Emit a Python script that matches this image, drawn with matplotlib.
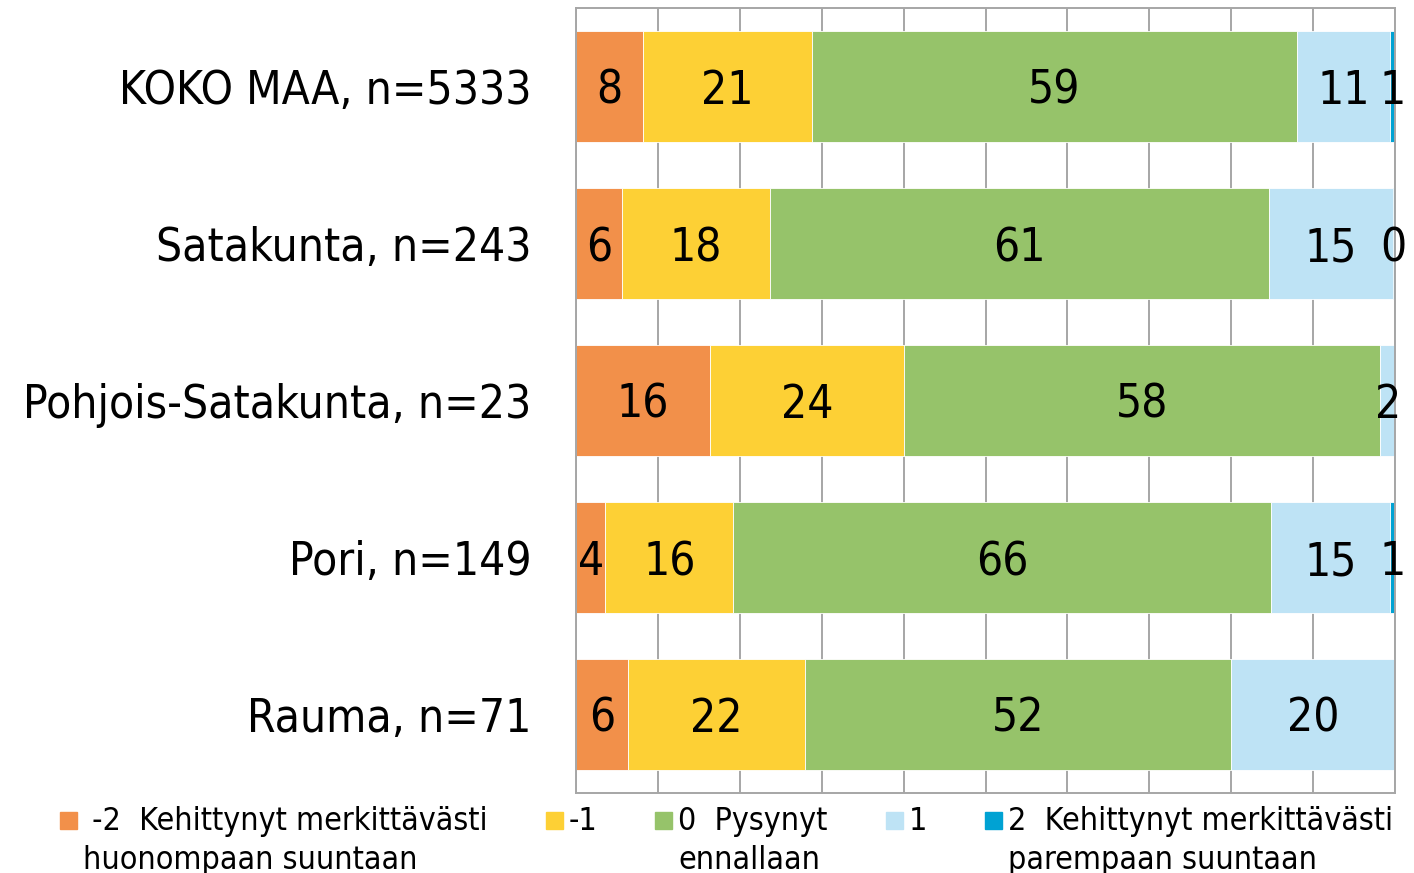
import matplotlib
matplotlib.use("Agg")
import matplotlib.pyplot as plt
from matplotlib import font_manager as fm
from matplotlib.patches import Rectangle
import numpy as np

# ---------------- data ----------------
categories = ["KOKO MAA, n=5333", "Satakunta, n=243", "Pohjois-Satakunta, n=23",
              "Pori, n=149", "Rauma, n=71"]
series_names = [" -2  Kehittynyt merkittävästi\nhuonompaan suuntaan",
                "-1",
                "0  Pysynyt\nennallaan",
                "1",
                "2  Kehittynyt merkittävästi\nparempaan suuntaan"]
minus2 = [8.2, 5.6, 16.4, 3.6, 6.3]
minus1 = [20.6, 18.1, 23.6, 15.6, 21.7]
zero = [59.2, 60.9, 58.2, 65.6, 52.0]
plus1 = [11.4, 15.1, 1.8, 14.6, 20.0]
plus2 = [0.6, 0.3, 0.0, 0.6, 0.0]
colors = ["#F2904A", "#FDD035", "#96C36A", "#BEE3F5", "#00A2D3"]

# ---------------- fonts ----------------
cond_path = None
for f in fm.fontManager.ttflist:
    if f.name == "DejaVu Sans" and f.stretch == "condensed" and f.style == "normal" \
            and f.weight in (400, "normal", "regular", "book"):
        cond_path = f.fname
        break
if cond_path is None:
    for f in fm.fontManager.ttflist:
        if f.fname.endswith("DejaVuSansCondensed.ttf"):
            cond_path = f.fname
            break


def fp(size):
    if cond_path:
        return fm.FontProperties(fname=cond_path, size=size)
    return fm.FontProperties(family="DejaVu Sans", size=size * 0.9)


W, H = 1414, 873
fig = plt.figure(figsize=(W / 100, H / 100), dpi=100)
ax = fig.add_axes([576 / W, 1 - 793 / H, (1395 - 576) / W, (793 - 8) / H])

series = [minus2, minus1, zero, plus1, plus2]
y = np.arange(len(categories))
left = np.zeros(len(categories))
bar_fp = fp(33)
for vals, col in zip(series, colors):
    vals = np.asarray(vals, dtype=float)
    ax.barh(y, vals, left=left, height=0.71, color=col, edgecolor="white",
            linewidth=0.6, zorder=2)
    for yi, l, v in zip(y, left, vals):
        if v > 0:
            ax.text(l + v / 2, yi, f"{v:.0f}", ha="center", va="center_baseline",
                    fontproperties=bar_fp, color="black", zorder=3, clip_on=False)
    left = left + vals

ax.set_xlim(0, 100)
ax.set_ylim(len(categories) - 0.5, -0.5)
ax.set_xticks(np.arange(0, 101, 10))
ax.set_xticklabels([])
ax.set_yticks(y)
ax.set_yticklabels(categories, fontproperties=fp(33))
ax.tick_params(axis="both", length=0)
ax.tick_params(axis="y", pad=32)
ax.set_axisbelow(True)
ax.grid(axis="x", color="#A6A6A6", linewidth=1.4, zorder=0)
for s in ax.spines.values():
    s.set_color("#A6A6A6")
    s.set_linewidth(1.4)

# ---------------- legend (manual, handle aligned with first line) ----------------
fig.canvas.draw()
r = fig.canvas.get_renderer()
leg_fp = fp(23)
x = 60
for name, col in zip(series_names, colors):
    fig.add_artist(Rectangle((x / W, 1 - 829 / H), 17 / W, 17 / H,
                             transform=fig.transFigure, color=col))
    t = fig.text((x + 17 + 6) / W, 1 - 806 / H, name, ha="left", va="top",
                 fontproperties=leg_fp, linespacing=1.32, color="black")
    bb = t.get_window_extent(r)
    x = x + 17 + 6 + bb.width + 58

fig.savefig("out.png", dpi=100)
